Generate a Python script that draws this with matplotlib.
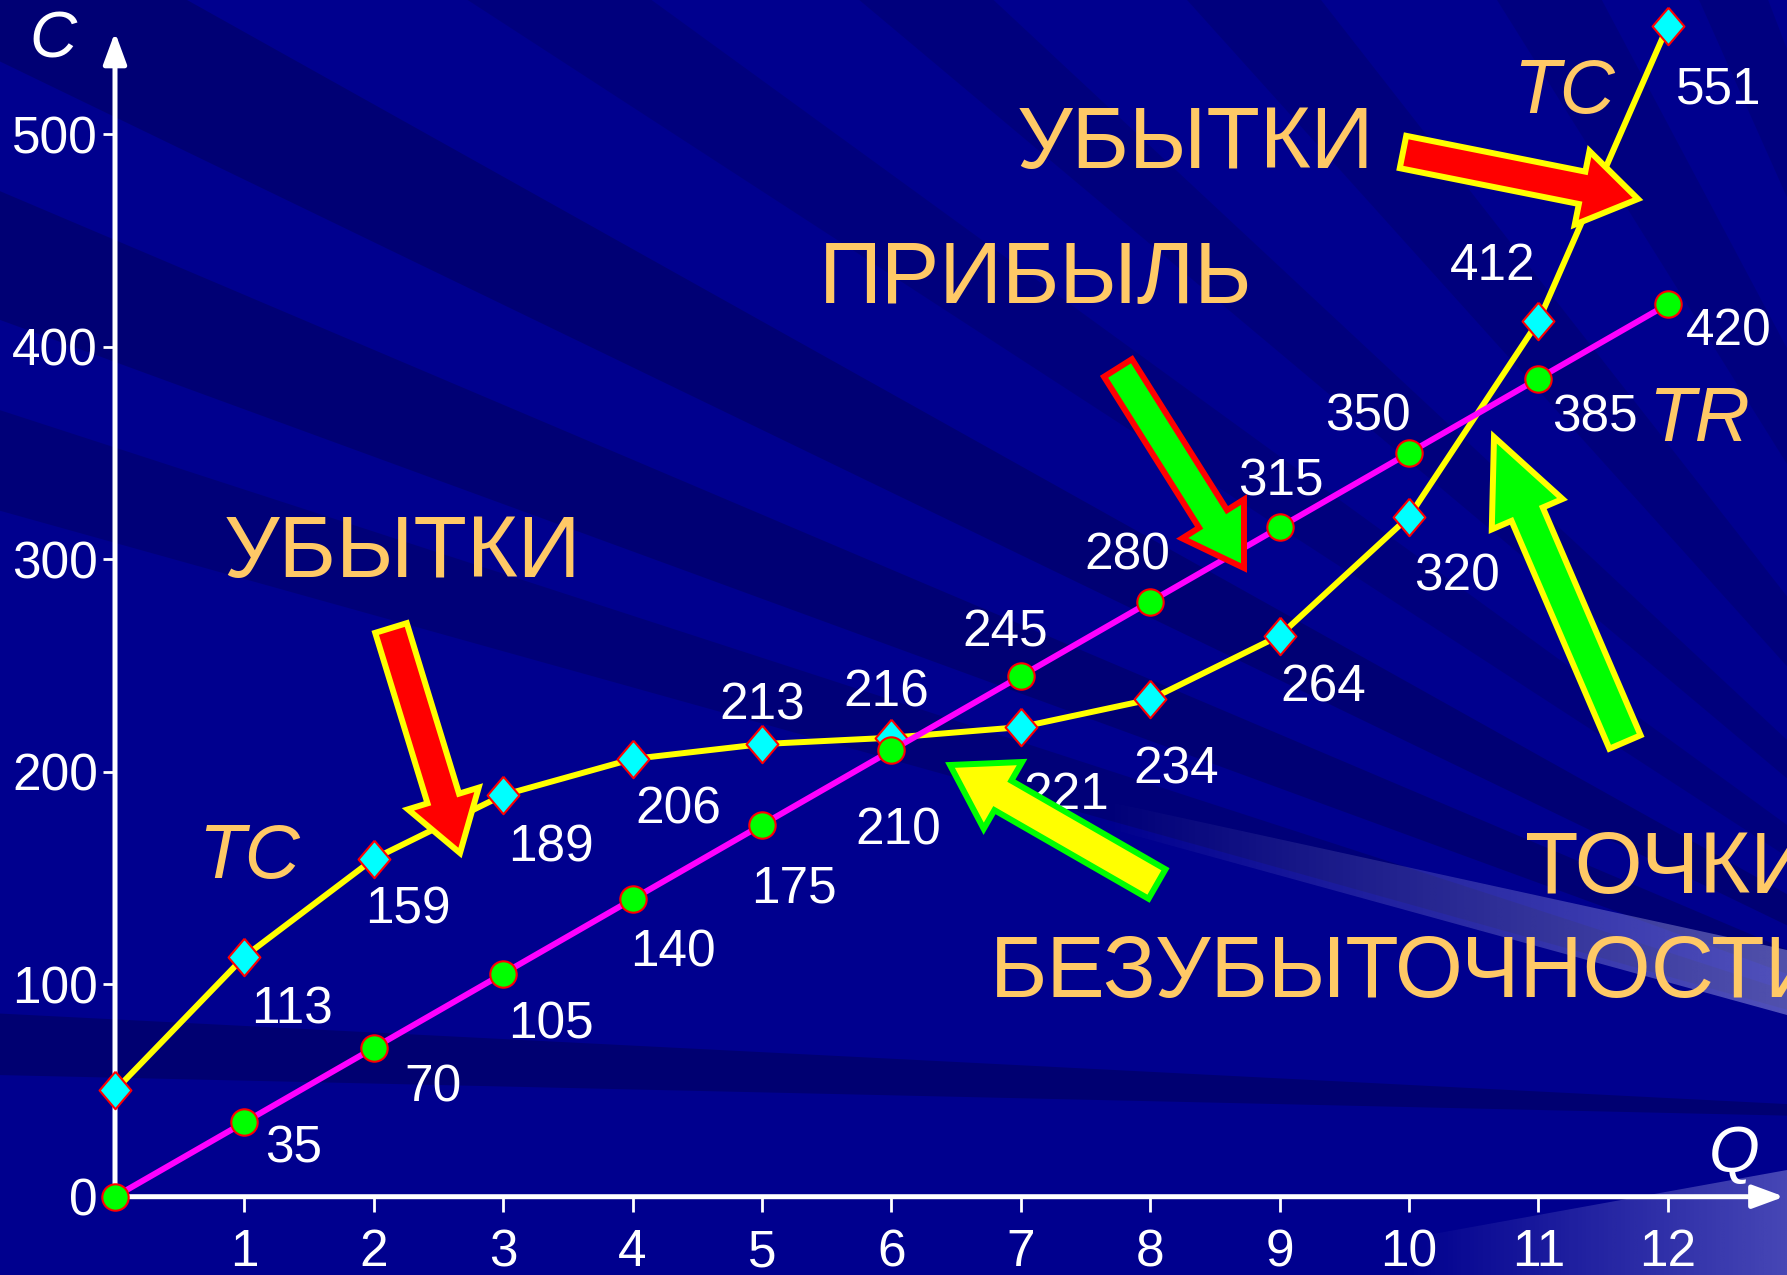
import numpy as np
import matplotlib
matplotlib.use("Agg")
import matplotlib.pyplot as plt
from matplotlib.patches import Polygon

plt.rcParams["font.family"] = ["Liberation Sans", "DejaVu Sans"]

W, H = 1787, 1275

# данные графика
q = list(range(13))
tc = [50, 113, 159, 189, 206, 213, 216, 221, 234, 264, 320, 412, 551]
tr = [0, 35, 70, 105, 140, 175, 210, 245, 280, 315, 350, 385, 420]
x_ticks = list(range(1, 13))
y_ticks = [0, 100, 200, 300, 400, 500]

# смещения подписей значений (пиксели, центр текста относительно точки)
tc_off = [None, (48, 48), (34, 46), (48, 47), (46, 46), (0, -44), (-5, -50),
          (45, 63), (26, 65), (44, 47), (48, 55), (-46, -60), (51, 59)]
tr_off = [None, (49, 21), (59, 35), (48, 46), (40, 48), (32, 59), (7, 75),
          (-16, -49), (-23, -51), (1, -51), (-41, -41), (57, 34), (61, 22)]

BASE = "#00008e"
DARK = "#00006a"
ORANGE = "#ffc966"

fig = plt.figure(figsize=(W / 100, H / 100), dpi=100)
fig.patch.set_facecolor(BASE)

# фон: лучи и светлые полосы
bg = fig.add_axes([0, 0, 1, 1])
bg.axis("off")
cx, cy = 2200, 1125
dark_rays = [(1.3, 2.9, 0.8), (15.6, 18, 0.6), (20.1, 23.0, 0.7), (25.8, 29.2, 0.7),
             (33, 36, 0.45), (40, 43, 0.45), (48, 52, 0.45), (58, 62, 0.4), (66, 69, 0.4)]
for a1, a2, al in dark_rays:
    t1, t2 = np.radians(a1), np.radians(a2)
    pts = [(cx, cy), (cx - 4000 * np.cos(t1), cy - 4000 * np.sin(t1)),
           (cx - 4000 * np.cos(t2), cy - 4000 * np.sin(t2))]
    bg.add_patch(Polygon(pts, closed=True, fc=DARK, ec="none", alpha=al))


def beam(pts, amax):
    poly = Polygon(pts, closed=True, fc="none", ec="none")
    bg.add_patch(poly)
    xs = [p[0] for p in pts]
    ys = [p[1] for p in pts]
    rgba = np.ones((1, 256, 4))
    rgba[..., 0] = 0.8
    rgba[..., 1] = 0.8
    rgba[..., 3] = np.linspace(0, amax, 256)
    im = bg.imshow(rgba, extent=(min(xs), max(xs), max(ys), min(ys)),
                   aspect="auto", interpolation="bilinear", zorder=2)
    im.set_clip_path(poly)


beam([(1100, 800), (1787, 950), (1787, 1015), (1100, 826)], 0.4)
beam([(1400, 1240), (1787, 1170), (1787, 1275), (1400, 1275)], 0.35)
bg.set_xlim(0, W)
bg.set_ylim(H, 0)

# оси с данными
ax = fig.add_axes([0, 0, 1, 1])
ax.patch.set_alpha(0)
x0_px, ux = 115, 129.4
y0_px, uy = 1196.7, 2.125
ax.set_xlim(-x0_px / ux, (W - x0_px) / ux)
ax.set_ylim(-(H - y0_px) / uy, y0_px / uy)
for s in ax.spines.values():
    s.set_visible(False)
ax.spines["left"].set_position(("data", 0))
ax.spines["bottom"].set_position(("data", 0))

ax.set_xticks(x_ticks)
ax.set_yticks(y_ticks)
ax.tick_params(axis="x", direction="out", length=10.8, width=2, color="white",
               pad=12, labelsize=37, labelcolor="white")
ax.tick_params(axis="y", direction="out", length=8.6, width=2, color="white",
               pad=3.6, labelsize=37, labelcolor="white")
ax.yaxis.get_major_ticks()[0].tick1line.set_visible(False)

arrow_kw = dict(arrowstyle="-|>,head_length=0.95,head_width=0.35", color="white",
                lw=3.6, mutation_scale=20, shrinkA=0, shrinkB=0)
ax.annotate("", xy=(0, 548), xytext=(0, 0), arrowprops=arrow_kw)
ax.annotate("", xy=(12.9, 0), xytext=(0, 0), arrowprops=arrow_kw)

diamond = [(0, 1), (0.85, 0), (0, -1), (-0.85, 0), (0, 1)]
ax.plot(q, tc, color="#ffff00", lw=4.3, marker=diamond, ms=27, mfc="#00ffff",
        mec="#ff0000", mew=1.5, zorder=3)
ax.plot(q, tr, color="#ff00ff", lw=4.3, marker="o", ms=19, mfc="#00ff00",
        mec="#ff0000", mew=1.5, zorder=4)

for vals, offs in [(tc, tc_off), (tr, tr_off)]:
    for i in range(1, 13):
        dx, dy = offs[i]
        ax.annotate(str(vals[i]), (q[i], vals[i]), xytext=(dx, -dy - 19),
                    textcoords="offset pixels", ha="center", va="baseline",
                    fontsize=37, color="white", zorder=5)

# верхний слой: надписи и стрелки
ov = fig.add_axes([0, 0, 1, 1])
ov.patch.set_alpha(0)
ov.axis("off")
ov.set_xlim(0, W)
ov.set_ylim(H, 0)

ov.text(1374, 168, "УБЫТКИ", color=ORANGE, fontsize=63, ha="right", va="baseline")
ov.text(1252, 303, "ПРИБЫЛЬ", color=ORANGE, fontsize=63, ha="right", va="baseline")
ov.text(224, 577, "УБЫТКИ", color=ORANGE, fontsize=63, ha="left", va="baseline")
ov.text(1525, 893, "ТОЧКИ", color=ORANGE, fontsize=63, ha="left", va="baseline")
ov.text(990, 997, "БЕЗУБЫТОЧНОСТИ", color=ORANGE, fontsize=63, ha="left", va="baseline")
ov.text(198, 878, "TC", color=ORANGE, fontsize=55, style="italic", ha="left", va="baseline")
ov.text(1513, 113, "TC", color=ORANGE, fontsize=55, style="italic", ha="left", va="baseline")
ov.text(1648, 441, "TR", color=ORANGE, fontsize=55, style="italic", ha="left", va="baseline")
ov.text(29, 58, "C", color="white", fontsize=47, style="italic", ha="left", va="baseline")
ov.text(1709, 1172, "Q", color="white", fontsize=47, style="italic", ha="left", va="baseline")


def block_arrow(tail, tip, w, hw, hl, face, edge):
    t = np.array(tail, float)
    p = np.array(tip, float)
    u = (p - t) / np.hypot(*(p - t))
    n = np.array([-u[1], u[0]])
    b = p - u * hl
    pts = [t + n * w / 2, b + n * w / 2, b + n * hw / 2, p,
           b - n * hw / 2, b - n * w / 2, t - n * w / 2]
    ov.add_patch(Polygon(pts, closed=True, fc=face, ec=edge, lw=4.3,
                         joinstyle="miter", zorder=6))


block_arrow((1403, 152), (1638, 199), 33, 75, 57, "#ff0000", "#ffff00")
block_arrow((391, 628), (460, 853), 33, 74, 57, "#ff0000", "#ffff00")
block_arrow((1118, 368), (1244, 568), 33, 73, 58, "#00ff00", "#ff0000")
block_arrow((1157, 884), (950, 765), 34, 77, 61, "#ffff00", "#00ff00")
block_arrow((1625, 742), (1494, 437), 34, 77, 84, "#00ff00", "#ffff00")

fig.savefig("out.png", dpi=100, facecolor=fig.get_facecolor())
